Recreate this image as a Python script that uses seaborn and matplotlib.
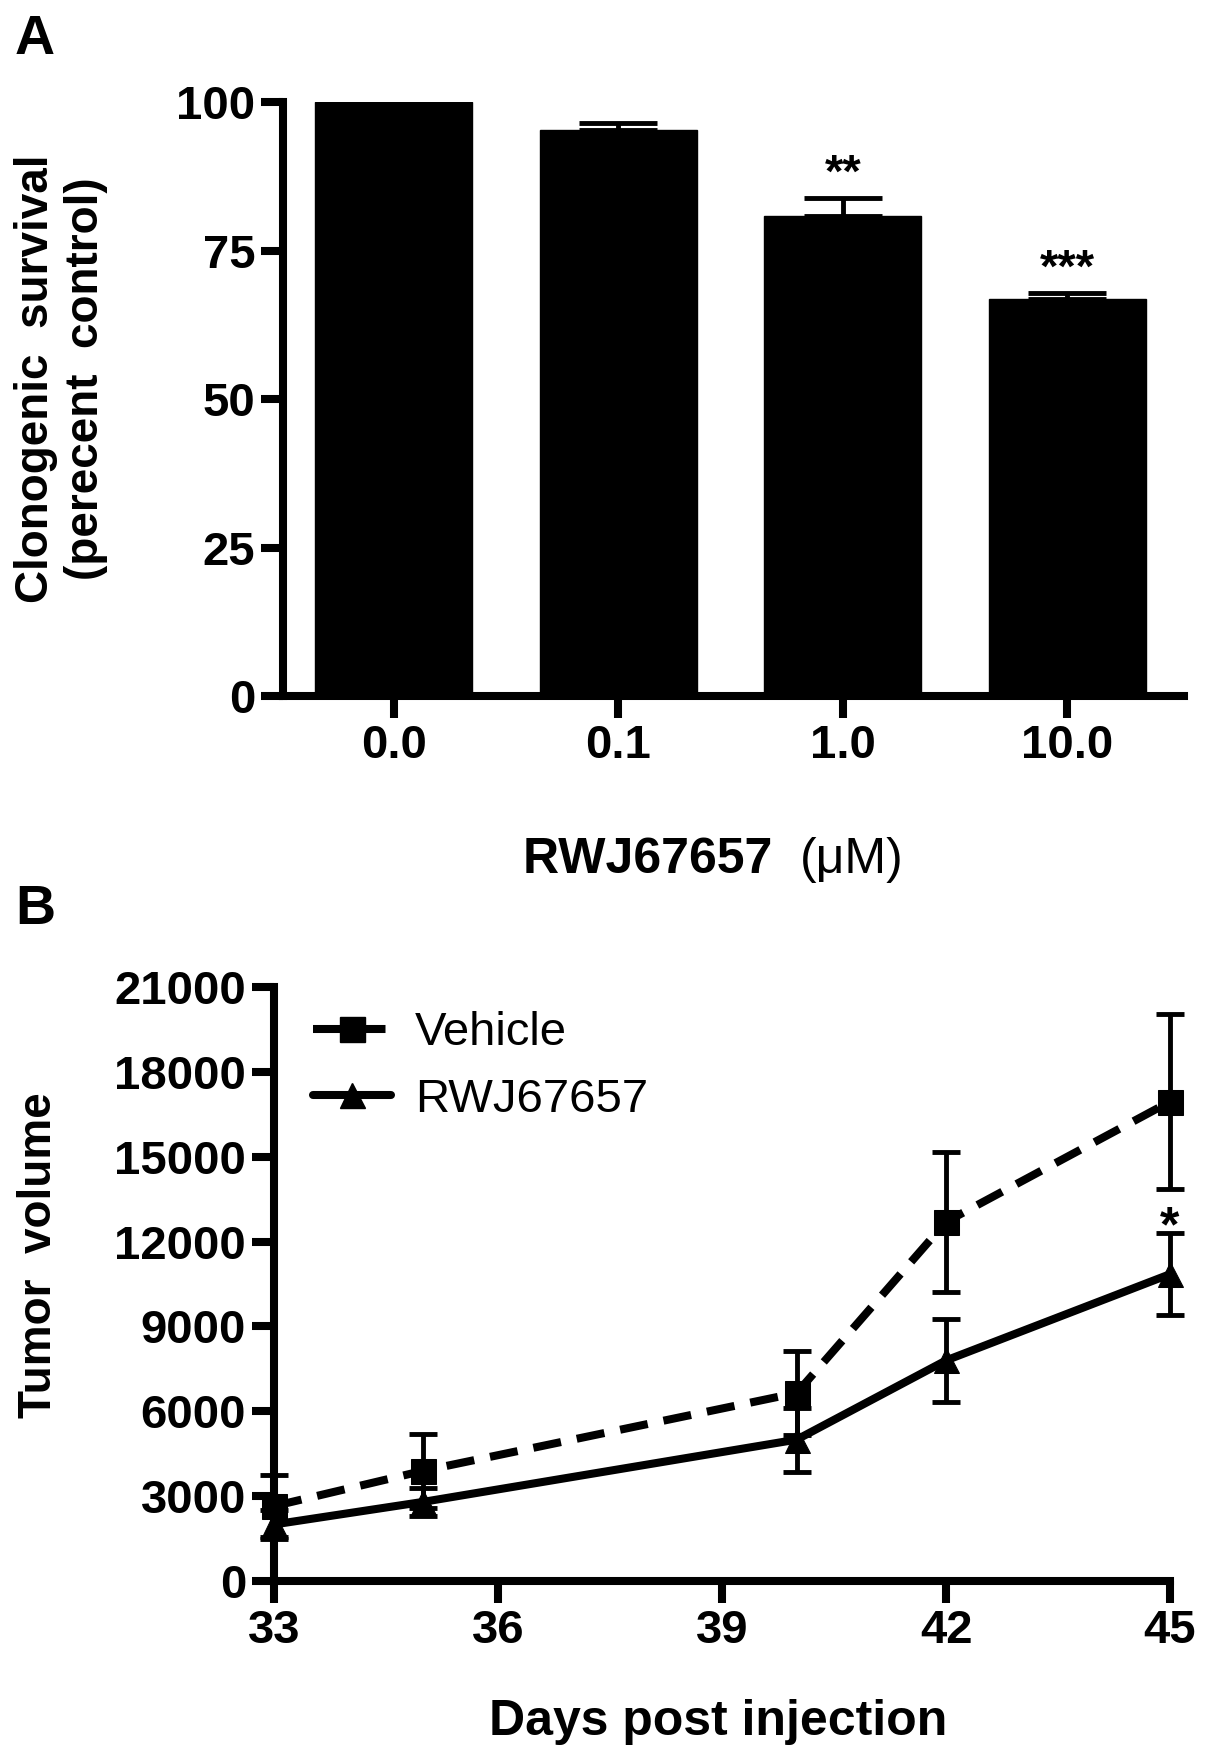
import numpy as np
import pandas as pd
import matplotlib
matplotlib.use('Agg')
import matplotlib.pyplot as plt
from matplotlib.lines import Line2D
import seaborn as sns

# Panel A: clonogenic survival
doses = ['0.0', '0.1', '1.0', '10.0']
survival = [100.0, 95.4, 80.9, 66.8]
survival_sem = [0.0, 1.1, 2.9, 1.0]
stars_a = ['', '', '**', '***']

# Panel B: tumor volume over time
days = [33, 35, 40, 42, 45]
vehicle = [2650, 3900, 6650, 12700, 16950]
vehicle_sem = [1100, 1300, 1480, 2470, 3100]
rwj = [2000, 2800, 5000, 7800, 10850]
rwj_sem = [500, 500, 1130, 1470, 1450]
stars_b = ['', '', '', '', '*']

sns.set_theme(style='ticks')
plt.rcParams['font.family'] = ['Liberation Sans Narrow', 'Liberation Sans', 'DejaVu Sans']
plt.rcParams['font.weight'] = 'bold'
for key in ('text.color', 'axes.labelcolor', 'xtick.color', 'ytick.color',
            'axes.edgecolor'):
    plt.rcParams[key] = 'black'

SPINE = 5.8
TICKFS = 34

fig = plt.figure(figsize=(12.05, 17.62), dpi=100)
fig.patch.set_facecolor('white')

axA = fig.add_axes([0.2349, 0.605, 0.7477, 0.337])
axB = fig.add_axes([0.2274, 0.1027, 0.7436, 0.3371])

# ---- Panel A ----
dfA = pd.DataFrame({'dose': doses, 'survival': survival})
sns.barplot(data=dfA, x='dose', y='survival', color='black', width=0.7,
            saturation=1, edgecolor='black', ax=axA)
xs = np.arange(len(doses))
axA.errorbar(xs[1:], survival[1:], yerr=[np.zeros(3), survival_sem[1:]],
             fmt='none', ecolor='black', elinewidth=3.5, capsize=28,
             capthick=3.5)
for x, v, e, s in zip(xs, survival, survival_sem, stars_a):
    if s:
        axA.text(x, v + e + 0.2, s, ha='center', va='bottom',
                 fontsize=34, fontweight='bold', family=['Liberation Sans'])
axA.set_xlim(-0.494, 3.52)
axA.set_ylim(0, 100)
axA.set_yticks([0, 25, 50, 75, 100])
axA.set_xlabel('')
axA.set_ylabel('')

# ---- Panel B ----
dfB = pd.DataFrame({'day': days, 'vehicle': vehicle, 'rwj': rwj})
sns.lineplot(data=dfB, x='day', y='vehicle', ax=axB, color='black',
             linewidth=5.8, linestyle=(0, (3.5, 2)), marker='s',
             markersize=18, markeredgecolor='black', clip_on=False)
sns.lineplot(data=dfB, x='day', y='rwj', ax=axB, color='black',
             linewidth=5.8, marker='^', markersize=18,
             markeredgecolor='black', clip_on=False)
for vals, sem in ((vehicle, vehicle_sem), (rwj, rwj_sem)):
    eb = axB.errorbar(days, vals, yerr=sem, fmt='none', ecolor='black',
                      elinewidth=3.5, capsize=10, capthick=3.5)
    for art in eb.get_children():
        art.set_clip_on(False)
for d, v, e, s in zip(days, rwj, rwj_sem, stars_b):
    if s:
        axB.text(d, v + e - 650, s, ha='center', va='bottom',
                 fontsize=36, fontweight='bold', family=['Liberation Sans'])
axB.set_xlim(33, 45)
axB.set_ylim(0, 21000)
axB.set_xticks([33, 36, 39, 42, 45])
axB.set_yticks(np.arange(0, 21001, 3000))
axB.set_xlabel('')
axB.set_ylabel('')

handles = [
    Line2D([], [], color='black', lw=5.8, linestyle=(0, (3.5, 2)),
           marker='s', markersize=18),
    Line2D([], [], color='black', lw=5.8, marker='^', markersize=18),
]
fig.legend(handles, ['Vehicle', 'RWJ67657'], loc='upper left',
           bbox_to_anchor=(0.2598, 0.4262), frameon=False, borderpad=0,
           borderaxespad=0, handlelength=1.66, handletextpad=0.5,
           labelspacing=0.48, labelcolor='black',
           prop={'family': ['Liberation Sans'], 'weight': 'normal',
                 'size': 34})

for ax in (axA, axB):
    sns.despine(ax=ax)
    for side in ('left', 'bottom'):
        ax.spines[side].set_linewidth(SPINE)
        ax.spines[side].set_color('black')
        ax.spines[side].set_capstyle('projecting')
    ax.tick_params(width=SPINE, length=16, color='black', labelsize=TICKFS,
                   labelcolor='black', pad=4)
    for lab in ax.get_xticklabels() + ax.get_yticklabels():
        lab.set_fontweight('bold')

# axis titles
fig.text(61 / 1205, 1 - 379 / 1762, 'Clonogenic  survival\n(perecent  control)',
         rotation=90, ha='center', va='center', fontsize=33,
         fontweight='bold', family=['Liberation Sans'], linespacing=1.2)
fig.text(800 / 1205, 1 - 860 / 1762, 'RWJ67657  ', ha='right',
         va='center', fontsize=36, fontweight='bold')
fig.text(800 / 1205, 1 - 860 / 1762, '(\u03bcM)', ha='left',
         va='center', fontsize=36, fontweight='normal')
fig.text(718 / 1205, 1 - 1722 / 1762, 'Days post injection', ha='center',
         va='center', fontsize=36, fontweight='bold')

fig.text(39 / 1205, 1 - 1255 / 1762, 'Tumor  volume', rotation=90,
         ha='center', va='center', fontsize=33, fontweight='bold',
         family=['Liberation Sans'])

# panel letters
fig.text(15 / 1205, 1 - 40 / 1762, 'A', ha='left', va='center', fontsize=40,
         fontweight='bold', family=['Liberation Sans'])
fig.text(15 / 1205, 1 - 910 / 1762, 'B', ha='left', va='center', fontsize=40,
         fontweight='bold', family=['Liberation Sans'])

fig.savefig('out.png', dpi=100, facecolor='white')
